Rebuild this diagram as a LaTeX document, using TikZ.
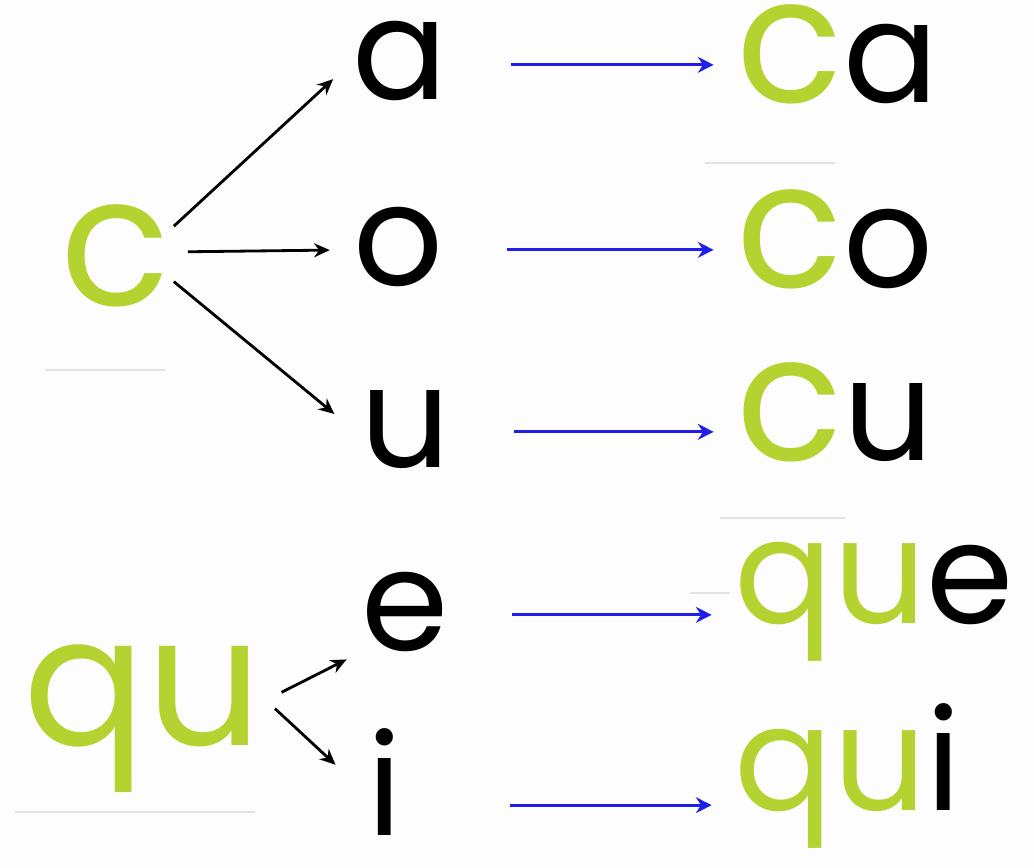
\documentclass[tikz,border=0pt]{standalone}
\usepackage{fontspec}
\setmainfont{Poppins}
\usepackage{xcolor}
\usepackage{tikz}
\usetikzlibrary{
  arrows.meta
}
\definecolor{SyllGreen}{HTML}{B5D330}
\definecolor{SyllBlue}{HTML}{1F1FE8}
\definecolor{SyllRule}{HTML}{E3E3E3}
\definecolor{SyllPaper}{HTML}{FDFDFD}
\newcommand{\greenc}{\textcolor{SyllGreen}{\fontsize{100}{100}\selectfont c}}
\newcommand{\greenqu}{\textcolor{SyllGreen}{\fontsize{83}{83}\selectfont qu}}

\begin{document}
\begin{tikzpicture}[x=0.02cm,y=-0.02cm,
        letter/.style={anchor=base,inner sep=2pt,text height=40pt,text depth=0pt,
                       font=\fontsize{80}{80}\selectfont},
        syllable/.style={anchor=base west,inner sep=2pt,font=\fontsize{80}{80}\selectfont},
        bigletter/.style={letter,text=SyllGreen,text height=51pt,
                          font=\fontsize{103}{103}\selectfont},
        tie/.style={line width=1.6pt,-{Stealth[length=9pt,width=8pt]}},
        build/.style={SyllBlue,line width=1.8pt,shorten >=11pt,
                      -{Stealth[length=9pt,width=9pt]}},
        rule/.style={SyllRule,line width=1.5pt}]
        \fill[SyllPaper] (0,0) rectangle (1034,868);
        \useasboundingbox (0,0) rectangle (1034,868);
        \draw[rule] (45,370) -- (165,370);
        \draw[rule] (705,163) -- (835,163);
        \draw[rule] (720,518) -- (845,518);
        \draw[rule] (15,812) -- (255,812);
        \draw[rule] (690,593) -- (730,593);
        \node[bigletter] (c) at (115,305) {c};
        \node[bigletter] (qu) at (143,745) {qu};
        \node[letter] (a) at (400,100) {a};
        \node[letter] (o) at (398,285) {o};
        \node[letter] (u) at (405,467) {u};
        \node[letter] (e) at (405,650) {e};
        \node[syllable,anchor=base] (i) at (385,835) {i};
        \node[syllable] (ca) at (733,103) {\greenc a};
        \node[syllable] (co) at (733,287) {\greenc o};
        \node[syllable] (cu) at (733,460) {\greenc u};
        \node[syllable] (que) at (731,623) {\greenqu e};
        \node[syllable] (qui) at (731,810) {\greenqu i};
        \draw[tie,shorten >=12pt] (c.30) -- (a.west);
        \draw[tie,shorten <=8pt,shorten >=11pt] (c.8) -- (o.west);
        \draw[tie,shorten >=16pt] (c.-20) -- (u.west);
        \draw[tie,shorten <=10pt,shorten >=7pt] (qu.east) -- (e.south west);
        \draw[tie,shorten <=7pt,shorten >=22pt] (qu.east) -- ([yshift=25pt]i.base west);
        \draw[build,shorten <=34pt] (a.east) -- (a.east -| ca.west);
        \draw[build,shorten <=34pt] (o.east) -- (o.east -| co.west);
        \draw[build,shorten <=34pt] (u.east) -- (u.east -| cu.west);
        \draw[build,shorten <=34pt] (e.east) -- (e.east -| que.west);
        \draw[build,shorten <=59pt] ([yshift=17pt]i.base east) -- ([yshift=17pt]i.base east -| qui.west);
      \end{tikzpicture}
\end{document}
